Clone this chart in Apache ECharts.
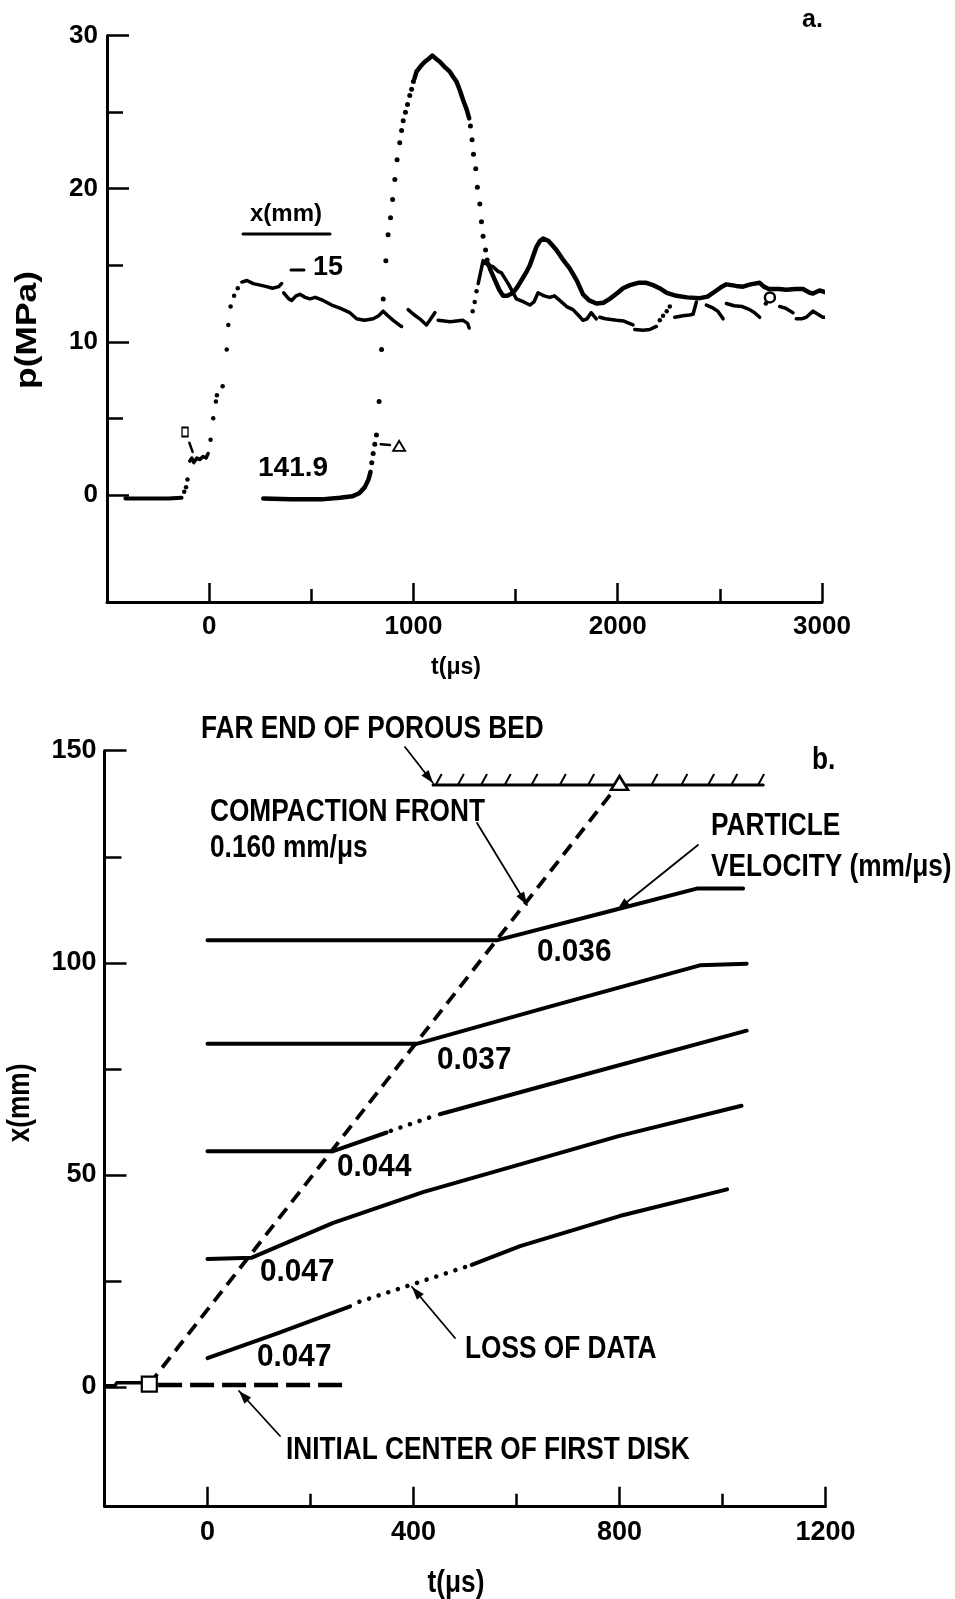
<!DOCTYPE html>
<html><head><meta charset="utf-8">
<script src="https://cdn.jsdelivr.net/npm/echarts@6/dist/echarts.min.js"></script>
<style>html,body{margin:0;padding:0;background:#fff}#c{width:955px;height:1599px}</style>
</head><body><div id="c"></div>
<script>
// ---------- Panel a: pressure histories p(MPa) vs t(us) ----------
const aXLabels = [0, 1000, 2000, 3000];
const aXMinor = [500, 1500, 2500];
const aYLabels = [0, 10, 20, 30];
const aYMinor = [5, 15, 25];

// gauge at x = -15 mm
const p15Flat = [[-410,-0.25],[-300,-0.25],[-200,-0.25],[-135,-0.2]];
const p15Dots = [[-122,0.2],[-113,0.5],[-106,1.0],[7,3.6],[20,5.0],[33,6.1],[38,6.5],[66,7.1],[86,9.5],[94,11.1],[105,12.3],[122,13.0],[140,13.5],
  [1290,12.0],[1300,12.6],[1309,13.3],[2206,11.4],[2222,11.7],[2240,12.0],[2255,12.3],[2725,12.5],[2745,12.7]];
const p15Segs = [
  [[-95,2.2],[-85,2.4],[-75,2.1],[-60,2.4],[-45,2.3],[-30,2.5],[-15,2.4],[-5,2.7]],
  [[160,13.9],[185,14.0],[216,13.8],[250,13.7],[281,13.6],[310,13.5],[340,13.6],[355,13.8]],
  [[365,13.2],[390,12.8],[404,12.7],[425,13.0],[444,13.1],[470,12.9],[493,12.8],[520,12.9],[558,12.7],[600,12.4],[640,12.2],[689,11.9],[722,11.5],[760,11.4],[803,11.5],[830,11.7],[852,12.0],[875,11.7],[901,11.4],[930,11.1],[942,11.0]],
  [[974,12.1],[1000,11.8],[1031,11.5],[1064,11.1],[1080,11.4],[1105,11.9]],
  [[1121,11.4],[1180,11.3],[1243,11.4],[1265,11.2],[1273,10.9]],
  [[1317,13.8],[1341,15.3],[1365,15.0],[1390,14.9],[1414,14.6],[1431,14.5],[1464,13.8],[1504,12.8],[1540,12.6],[1570,12.4],[1590,12.6],[1610,13.2],[1640,13.0],[1667,12.9],[1690,13.0],[1716,12.7],[1750,12.3],[1781,12.1],[1810,11.7],[1830,11.4],[1850,11.5],[1870,11.9],[1879,11.8],[1895,11.5]],
  [[1912,11.6],[1940,11.5],[1994,11.4],[2030,11.35],[2075,11.1]],
  [[2083,10.8],[2124,10.75],[2157,10.8],[2189,11.0]],
  [[2279,11.6],[2320,11.7],[2350,11.75],[2369,11.8],[2385,12.6]],
  [[2434,12.4],[2460,12.25],[2490,12.0],[2516,11.5]],
  [[2532,12.5],[2570,12.35],[2610,12.3],[2646,12.1],[2670,11.9],[2695,11.6]],
  [[2793,12.3],[2820,12.2],[2858,11.9]],
  [[2874,11.5],[2900,11.5],[2923,11.6],[2956,12.0],[2980,11.8],[3004,11.6],[3037,11.6]]
];

// gauge at x = 141.9 mm
const p142Segs = [
  [[265,-0.25],[400,-0.3],[550,-0.3],[640,-0.2],[700,-0.1],[735,0.1],[762,0.5],[780,1.0],[790,1.5]],
  [[1005,27.2],[1015,27.65],[1035,28.0],[1056,28.3],[1075,28.5],[1093,28.7],[1110,28.5],[1129,28.3],[1150,28.0],[1178,27.65],[1195,27.3],[1211,27.0],[1228,26.4],[1243,25.8],[1260,25.2],[1273,24.6]],
  [[1366,15.1],[1380,14.6],[1400,14.0],[1420,13.4],[1439,13.0],[1460,13.0],[1488,13.2],[1510,13.6],[1537,14.2],[1555,14.6],[1570,15.0],[1602,16.2],[1620,16.6],[1635,16.75],[1660,16.6],[1680,16.3],[1700,16.0],[1730,15.4],[1765,14.8],[1800,14.0],[1830,13.1],[1860,12.7],[1896,12.5],[1930,12.55],[1961,12.8],[2000,13.2],[2026,13.5],[2060,13.7],[2100,13.85],[2140,13.85],[2173,13.7],[2205,13.5],[2240,13.2],[2287,13.0],[2340,12.9],[2401,12.85],[2440,12.95],[2483,13.35],[2510,13.6],[2532,13.75],[2580,13.65],[2613,13.6],[2650,13.75],[2695,13.85],[2715,13.6],[2740,13.45],[2790,13.45],[2825,13.4],[2870,13.45],[2907,13.45],[2940,13.2],[2956,13.15],[2988,13.35],[3015,13.25],[3045,13.1]]
];
const p142Dots = [[796,2.1],[803,2.7],[811,3.3],[819,3.9],[832,6.1],[844,9.5],[852,12.8],[865,15.3],[876,17.0],[888,18.1],[898,19.3],[909,20.6],[920,21.9],[933,23.0],[942,23.8],[950,24.45],[961,25.0],[971,25.5],[982,26.1],[991,26.5],[1000,27.0],
  [1279,24.1],[1287,23.2],[1294,22.25],[1305,21.3],[1313,20.1],[1325,19.0],[1333,17.85],[1341,16.9],[1353,16.0],[1361,15.35]];

const aSquare = [[-118,4.1]];
const aTriangle = [[930,3.2]];
const aCircle = [[2745,12.9]];
const aLeaders = [[[-97,3.4],[-81,2.8]], [[840,3.3],[885,3.25]]];

// ---------- Panel b: x(mm) vs t(us) ----------
const bXLabels = [0, 400, 800, 1200];
const bXMinor = [200, 600, 1000];
const bYLabels = [0, 50, 100, 150];
const bYMinor = [25, 75, 125];

const traj1 = [[0,105.3],[300,105.3],[561,105.3],[788,112.4],[950,117.5],[1040,117.5]];
const traj2 = [[0,80.9],[406,80.9],[659,89.5],[956,99.4],[1047,99.8]];
const traj3a = [[0,55.6],[244,55.6],[348,60.0]];
const traj3gap = [[356,60.4],[440,63.9]];
const traj3b = [[451,64.3],[749,74.2],[1047,84.0]];
const traj4 = [[0,30.2],[86,30.5],[244,38.7],[420,46.0],[607,52.5],[800,59.2],[1037,66.3]];
const traj5a = [[0,6.8],[137,12.7],[277,19.0]];
const traj5gap = [[295,20.1],[503,28.4]];
const traj5b = [[513,28.8],[607,33.2],[800,40.3],[1009,46.6]];
const frontLine = [[-113,0.7],[800,142.4]];
const initLine = [[-96,0.5],[272,0.5]];
const stepLine = [[-198,0.3],[-180,0.3],[-176,1.0],[-125,1.0]];
const farEnd = [[438,141.9],[1079,141.9]];
const hatchT = [447,490,535,581,633,688,743,866,924,976,1021,1073];
const bSquare = [[-113,0.7]];
const bTriangle = [[800,142.4]];

const FA = "'Liberation Sans', Arial, sans-serif";
const noComma = v => String(v);

function axisPair(gi, min, max, labels, minor, fs, margin, lenMaj, lenMin, pos) {
  const main = {
    gridIndex: gi, type: 'value', min, max, position: pos,
    axisLine: {show: true, onZero: false, lineStyle: {color: '#000', width: 3}},
    axisTick: {show: true, inside: true, length: lenMaj, customValues: labels, lineStyle: {color: '#000', width: 2.5}},
    axisLabel: {show: true, customValues: labels, margin, color: '#000', fontSize: fs, fontWeight: 'bold', fontFamily: FA, formatter: noComma},
    splitLine: {show: false}
  };
  const aux = {
    gridIndex: gi, type: 'value', min, max, position: pos,
    axisLine: {show: false, onZero: false},
    axisTick: {show: true, inside: true, length: lenMin, customValues: minor, lineStyle: {color: '#000', width: 2.5}},
    axisLabel: {show: false}, splitLine: {show: false}
  };
  return [main, aux];
}

const series = [];
function line(data, xi, width, type, cap) {
  series.push({type: 'line', xAxisIndex: xi, yAxisIndex: xi, data, symbol: 'none', clip: false, silent: true,
    lineStyle: {color: '#000', width, type: type || 'solid', cap: cap || 'round', join: 'round', opacity: 1}, z: 3});
}
function dots(data, xi, size) {
  series.push({type: 'scatter', xAxisIndex: xi, yAxisIndex: xi, data, symbol: 'circle', symbolSize: size, clip: false, silent: true,
    itemStyle: {color: '#000', opacity: 1}, z: 3});
}
function marker(data, xi, symbol, size, bw) {
  series.push({type: 'scatter', xAxisIndex: xi, yAxisIndex: xi, data, symbol, symbolSize: size, clip: false, silent: true,
    itemStyle: {color: '#fff', borderColor: '#000', borderWidth: bw, opacity: 1}, z: 5});
}

// panel a
line(p15Flat, 0, 4);
p15Segs.forEach(s => line(s, 0, 3.5));
dots(p15Dots, 0, 4.5);
p142Segs.forEach(s => line(s, 0, 4.5));
dots(p142Dots, 0, 5);
aLeaders.forEach(s => line(s, 0, 2.5));
marker(aSquare, 0, 'rect', [6, 9], 1.6);
marker(aTriangle, 0, 'triangle', [12, 10], 1.8);
marker(aCircle, 0, 'circle', 10, 2.5);

// panel b
[traj1, traj2, traj3a, traj3b, traj4, traj5a, traj5b].forEach(s => line(s, 2, 4));
[traj3gap, traj5gap].forEach(s => line(s, 2, 4.5, [0.1, 10], 'round'));
line(frontLine, 2, 3.8, [13, 8], 'butt');
line(initLine, 2, 4.5, [24, 8], 'butt');
line(stepLine, 2, 3.5);
line(farEnd, 2, 3);
series.push({type: 'custom', xAxisIndex: 2, yAxisIndex: 2, clip: false, silent: true, z: 3,
  data: hatchT.map(t => [t, farEnd[0][1]]),
  renderItem: (params, api) => {
    const p = api.coord([api.value(0), api.value(1)]);
    return {type: 'line', shape: {x1: p[0] - 2, y1: p[1], x2: p[0] + 4, y2: p[1] - 11}, style: {stroke: '#000', lineWidth: 2}};
  }});
marker(bSquare, 2, 'rect', 15, 2.2);
marker(bTriangle, 2, 'triangle', [17, 14], 2.5);

const [axA, axAm] = axisPair(0, -500, 3000, aXLabels, aXMinor, 26, 12, 19, 13, 'bottom');
const [ayA, ayAm] = axisPair(0, -7, 30, aYLabels, aYMinor, 26, 9, 22, 16, 'left');
const [axB, axBm] = axisPair(1, -200, 1200, bXLabels, bXMinor, 27, 13, 19, 12, 'bottom');
const [ayB, ayBm] = axisPair(1, -28, 150, bYLabels, bYMinor, 27, 8, 22, 17, 'left');

// annotations (pixel positions)
const graphics = [];
function txt(x, y, text, size, align, rot, sx) {
  graphics.push({type: 'text', x, y, rotation: rot || 0, scaleX: sx || 1, z: 10, silent: true,
    style: {text, fill: '#000', fontFamily: FA, fontSize: size, fontWeight: 'bold', align: align || 'left', verticalAlign: 'middle'}});
}
function seg(x1, y1, x2, y2, w) {
  graphics.push({type: 'line', z: 10, silent: true, shape: {x1, y1, x2, y2}, style: {stroke: '#000', lineWidth: w, lineCap: 'round'}});
}
function arrow(x1, y1, x2, y2) {
  seg(x1, y1, x2, y2, 1.8);
  const a = Math.atan2(y2 - y1, x2 - x1), L = 13, W = 4.5;
  const bx = x2 - L * Math.cos(a), by = y2 - L * Math.sin(a);
  graphics.push({type: 'polygon', z: 10, silent: true, shape: {points: [[x2, y2], [bx + W * Math.sin(a), by - W * Math.cos(a)], [bx - W * Math.sin(a), by + W * Math.cos(a)]]}, style: {fill: '#000'}});
}
const NX = 0.82; // condensed look for panel b lettering
const BS = 32;
// panel a texts
txt(802, 20, 'a.', 25);
txt(28, 330, 'p(MPa)', 30, 'center', Math.PI / 2, 1.18);
txt(456, 668, 't(μs)', 23, 'center');
txt(250, 214, 'x(mm)', 24);
seg(243, 234, 330, 234, 3);
seg(291, 270, 304, 270, 3);
txt(313, 268, '15', 27);
txt(258, 468, '141.9', 28);
// panel b texts
txt(201, 729, 'FAR END OF POROUS BED', BS, 'left', 0, NX);
txt(210, 812, 'COMPACTION FRONT', BS, 'left', 0, NX);
txt(210, 848, '0.160 mm/μs', BS, 'left', 0, NX);
txt(711, 826, 'PARTICLE', BS, 'left', 0, NX);
txt(711, 867, 'VELOCITY (mm/μs)', BS, 'left', 0, NX);
txt(812, 760, 'b.', BS, 'left', 0, NX);
txt(537, 952, '0.036', BS, 'left', 0, 0.93);
txt(437, 1060, '0.037', BS, 'left', 0, 0.93);
txt(337, 1167, '0.044', BS, 'left', 0, 0.93);
txt(260, 1272, '0.047', BS, 'left', 0, 0.93);
txt(257, 1357, '0.047', BS, 'left', 0, 0.93);
txt(465, 1349, 'LOSS OF DATA', BS, 'left', 0, NX);
txt(286, 1450, 'INITIAL CENTER OF FIRST DISK', BS, 'left', 0, NX);
txt(456, 1583, 't(μs)', BS, 'center', 0, NX);
txt(20, 1103, 'x(mm)', BS, 'center', Math.PI / 2, NX);
arrow(405, 747, 433, 783);
arrow(477, 823, 527, 905);
arrow(698, 845, 617, 910);
arrow(455, 1338, 412, 1287);
arrow(280, 1436, 239, 1391);

const chart = echarts.init(document.getElementById('c'), null, {renderer: 'canvas'});
chart.setOption({
  animation: false,
  backgroundColor: '#fff',
  grid: [
    {left: 107, top: 35.7, width: 715, height: 566.2},
    {left: 104.5, top: 750.7, width: 721, height: 755.1}
  ],
  xAxis: [axA, axAm, axB, axBm],
  yAxis: [ayA, ayAm, ayB, ayBm],
  series,
  graphic: graphics
});
</script></body></html>
